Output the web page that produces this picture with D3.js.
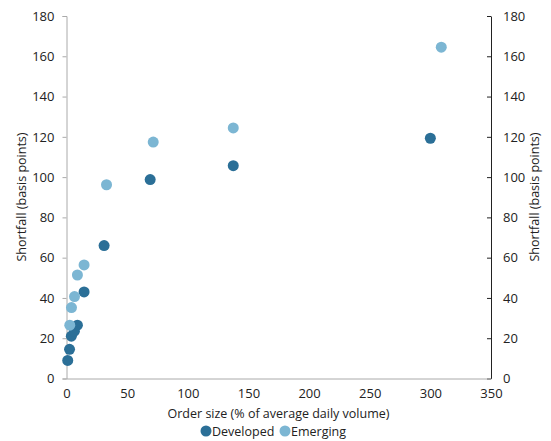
<!DOCTYPE html>
<html><head><meta charset="utf-8">
<script src="https://cdn.jsdelivr.net/npm/d3@7"></script>
<style>body{margin:0;background:#fff}svg{display:block;font-family:"Open Sans",sans-serif}</style>
</head><body><svg id="c" width="551" height="441"></svg>
<script>
const seriesNames = ["Developed", "Emerging"];
const colors = ["#2b6f97", "#7cb6d3"];
const developedX = [1, 2.5, 4, 6.5, 9, 14.5, 31, 69, 137.5, 300];
const developedY = [9, 14.5, 21, 23.5, 26.5, 43, 66, 98.8, 105.7, 119.3];
const emergingX = [2.7, 4.1, 6.6, 9, 14.5, 33, 71.5, 137.5, 309];
const emergingY = [26.5, 35.2, 40.7, 51.4, 56.4, 96.2, 117.4, 124.4, 164.5];
const xTicks = [0, 50, 100, 150, 200, 250, 300, 350];
const yTicks = [0, 20, 40, 60, 80, 100, 120, 140, 160, 180];

const svg = d3.select("#c");
const x = d3.scaleLinear().domain([0, 350]).range([66.5, 491]);
const y = d3.scaleLinear().domain([0, 180]).range([378.5, 16]);

// left axis
const gl = svg.append("g").attr("transform", "translate(66.5,0)")
  .call(d3.axisLeft(y).tickValues(yTicks).tickSize(4).tickPadding(8));
gl.select(".domain").attr("stroke", "#aaa");
gl.selectAll(".tick line").attr("stroke", "#aaa");
// right axis (ticks inward, labels outside)
const gr = svg.append("g").attr("transform", "translate(491,0)")
  .call(d3.axisRight(y).tickValues(yTicks).tickSize(0).tickPadding(12));
gr.select(".domain").attr("stroke", "#222");
gr.selectAll(".tick").append("line").attr("x1", -4).attr("x2", 0).attr("stroke", "#222");
// bottom axis
const gb = svg.append("g").attr("transform", "translate(0,378.5)")
  .call(d3.axisBottom(x).tickValues(xTicks).tickSize(0).tickPadding(10));
gb.select(".domain").attr("stroke", "#aaa");
svg.selectAll(".tick text").attr("font-size", 13).attr("fill", "#222").attr("font-family", "'Open Sans',sans-serif");

// titles
svg.append("text").attr("transform", "translate(26,197) rotate(-90)").attr("text-anchor", "middle")
  .attr("font-size", 12.5).attr("fill", "#222").text("Shortfall (basis points)");
svg.append("text").attr("transform", "translate(539,197) rotate(-90)").attr("text-anchor", "middle")
  .attr("font-size", 12.5).attr("fill", "#222").text("Shortfall (basis points)");
svg.append("text").attr("x", 278.5).attr("y", 418).attr("text-anchor", "middle")
  .attr("font-size", 12.5).attr("fill", "#222").text("Order size (% of average daily volume)");

const series = [
  {name: seriesNames[0], xs: developedX, ys: developedY, color: colors[0]},
  {name: seriesNames[1], xs: emergingX, ys: emergingY, color: colors[1]}
];
series.forEach(s => {
  svg.append("g").selectAll("circle").data(s.xs.map((v, i) => [v, s.ys[i]])).join("circle")
    .attr("cx", d => x(d[0])).attr("cy", d => y(d[1])).attr("r", 5.5).attr("fill", s.color);
});

// legend
const lg = svg.append("g");
const legendPos = [206, 285];
series.forEach((s, i) => {
  lg.append("circle").attr("cx", legendPos[i]).attr("cy", 431).attr("r", 5.5).attr("fill", s.color);
  lg.append("text").attr("x", legendPos[i] + 6).attr("y", 435.5).attr("font-size", 12.5).attr("fill", "#222").text(s.name);
});
</script></body></html>
